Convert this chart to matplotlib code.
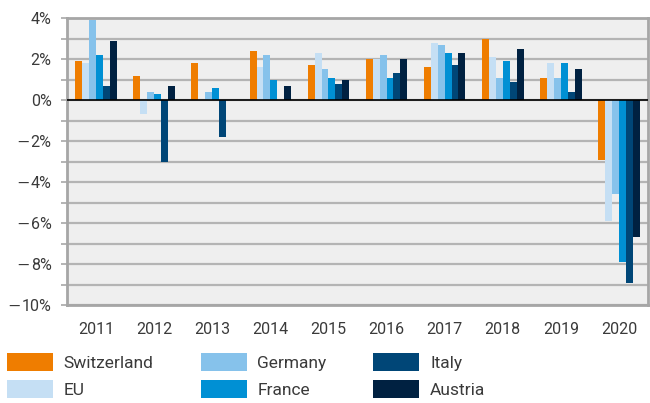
import matplotlib.pyplot as plt
import numpy as np
from matplotlib.ticker import MultipleLocator, NullFormatter
from matplotlib.transforms import blended_transform_factory, offset_copy

plt.rcParams["font.family"] = ["Roboto", "DejaVu Sans"]

years = ["2011", "2012", "2013", "2014", "2015", "2016", "2017", "2018", "2019", "2020"]
countries = ["Switzerland", "EU", "Germany", "France", "Italy", "Austria"]
y_labels = [4, 2, 0, -2, -4, -6, -8, -10]

# real GDP growth, % year over year
switzerland = [1.9, 1.2, 1.8, 2.4, 1.7, 2.0, 1.6, 3.0, 1.1, -2.9]
eu = [1.8, -0.7, 0.0, 1.6, 2.3, 2.0, 2.8, 2.1, 1.8, -5.9]
germany = [3.9, 0.4, 0.4, 2.2, 1.5, 2.2, 2.7, 1.1, 1.1, -4.6]
france = [2.2, 0.3, 0.6, 1.0, 1.1, 1.1, 2.3, 1.9, 1.8, -7.9]
italy = [0.7, -3.0, -1.8, 0.0, 0.8, 1.3, 1.7, 0.9, 0.4, -8.9]
austria = [2.9, 0.7, 0.0, 0.7, 1.0, 2.0, 2.3, 2.5, 1.5, -6.7]

series = [switzerland, eu, germany, france, italy, austria]
colors = ["#EF7D00", "#C5DFF4", "#86C2EB", "#0090D4", "#004677", "#002141"]

text_color = "#3A3A3A"
grid_color = "#B4B4B4"
frame_color = "#A6A6A6"
label_size = 11.5

fig = plt.figure(figsize=(6.5, 4.03), dpi=100)
ax = fig.add_axes([0.103, 0.243, 0.894, 0.712])
ax.set_facecolor("#EFEFEF")

x = np.arange(len(years))
width = 0.119
for i, (name, values, color) in enumerate(zip(countries, series, colors)):
    offset = (i - (len(series) - 1) / 2) * width
    ax.bar(x + offset, values, width=width, color=color, label=name, zorder=3, linewidth=0)

ax.axhline(0, color="black", linewidth=1.2, zorder=4)

ax.set_xlim(-0.5, len(years) - 0.5)
ax.set_ylim(-10, 4)
ax.yaxis.set_major_locator(MultipleLocator(2))
ax.yaxis.set_minor_locator(MultipleLocator(1))
ax.yaxis.set_major_formatter(NullFormatter())
ax.grid(axis="y", which="both", color=grid_color, linewidth=1.6, zorder=1)
ax.set_xticks(x, years)

ax.tick_params(axis="x", length=0, pad=12.5, labelsize=label_size, labelcolor=text_color)
ax.tick_params(axis="y", which="both", length=4, width=1.4, color=grid_color)

for spine in ax.spines.values():
    spine.set_color(frame_color)
    spine.set_linewidth(2)

# y labels drawn by hand so the minus sign can come from a wider glyph
renderer = fig.canvas.get_renderer()
label_trans = offset_copy(blended_transform_factory(ax.transAxes, ax.transData),
                          fig=fig, x=-11, y=0, units="points")
for value in y_labels:
    number = ax.text(0, value, f"{abs(value)}%", transform=label_trans, ha="right",
                     va="center_baseline", fontsize=label_size, color=text_color)
    if value < 0:
        w = number.get_window_extent(renderer).width * 72 / fig.dpi
        minus_trans = offset_copy(label_trans, fig=fig, x=-w - 0.5, y=0, units="points")
        ax.text(0, value, "\u2212", transform=minus_trans, ha="right", va="center_baseline",
                fontsize=label_size, color=text_color, family="DejaVu Sans")

leg = fig.legend(
    loc="upper left",
    bbox_to_anchor=(0.0108, 0.123),
    ncol=3,
    frameon=False,
    fontsize=12.5,
    handlelength=2.65,
    handleheight=1.2,
    handletextpad=0.62,
    columnspacing=2.7,
    labelspacing=0.5,
    borderpad=0,
    borderaxespad=0,
)
for text in leg.get_texts():
    text.set_color(text_color)

fig.savefig("out.png", dpi=100)
